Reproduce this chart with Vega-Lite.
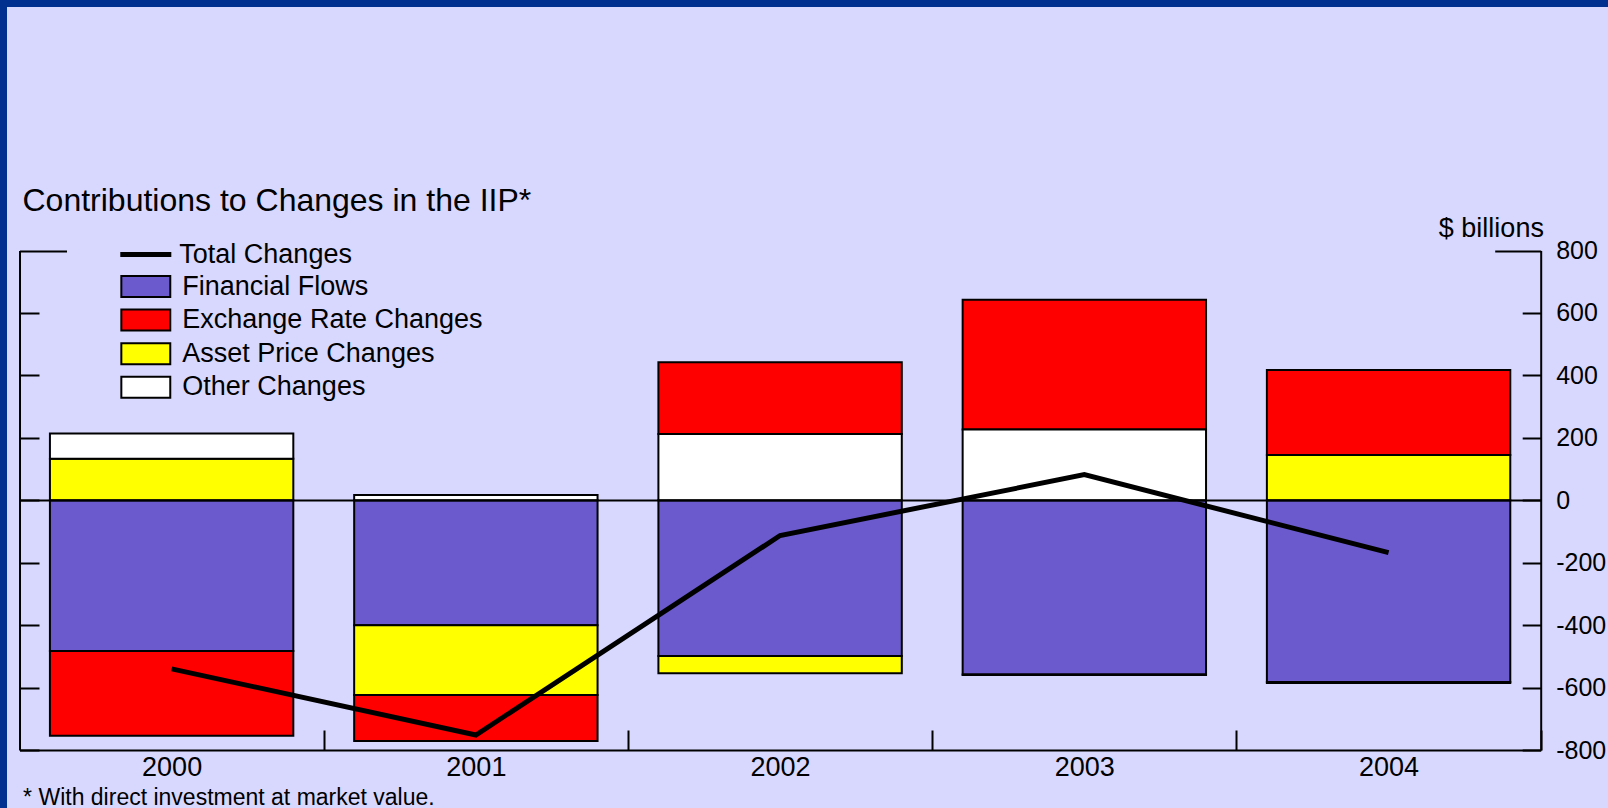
{
  "$schema": "https://vega.github.io/schema/vega-lite/v6.json",
  "width": 1601,
  "height": 801,
  "autosize": {"type": "none"},
  "padding": {"left": 7, "top": 7, "right": 0, "bottom": 0},
  "background": "#00308f",
  "title": {
    "text": "Contributions to Changes in the IIP*",
    "anchor": "start",
    "frame": "group",
    "orient": "top",
    "offset": -236,
    "baseline": "alphabetic",
    "dx": 15.5,
    "fontSize": 32,
    "fontWeight": "normal",
    "color": "black"
  },
  "datasets": {
    "components": [
      {"year": "2000", "component": "Financial Flows", "value": -483},
      {"year": "2000", "component": "Exchange Rate Changes", "value": -271},
      {"year": "2000", "component": "Asset Price Changes", "value": 133},
      {"year": "2000", "component": "Other Changes", "value": 81},
      {"year": "2001", "component": "Financial Flows", "value": -400},
      {"year": "2001", "component": "Exchange Rate Changes", "value": -147},
      {"year": "2001", "component": "Asset Price Changes", "value": -224},
      {"year": "2001", "component": "Other Changes", "value": 17},
      {"year": "2002", "component": "Financial Flows", "value": -499},
      {"year": "2002", "component": "Exchange Rate Changes", "value": 230},
      {"year": "2002", "component": "Asset Price Changes", "value": -55},
      {"year": "2002", "component": "Other Changes", "value": 212},
      {"year": "2003", "component": "Financial Flows", "value": -558},
      {"year": "2003", "component": "Exchange Rate Changes", "value": 415},
      {"year": "2003", "component": "Asset Price Changes", "value": -2},
      {"year": "2003", "component": "Other Changes", "value": 227},
      {"year": "2004", "component": "Financial Flows", "value": -582},
      {"year": "2004", "component": "Exchange Rate Changes", "value": 272},
      {"year": "2004", "component": "Asset Price Changes", "value": 145},
      {"year": "2004", "component": "Other Changes", "value": -3}
    ],
    "totals": [
      {"year": "2000", "total": -540},
      {"year": "2001", "total": -752},
      {"year": "2002", "total": -113},
      {"year": "2003", "total": 82},
      {"year": "2004", "total": -168}
    ]
  },
  "layer": [
    {
      "data": {"name": "components"},
      "transform": [
        {
          "calculate": "indexof(['Financial Flows', 'Asset Price Changes', 'Other Changes', 'Exchange Rate Changes'], datum.component)",
          "as": "stackRank"
        }
      ],
      "mark": {"type": "bar", "stroke": "black", "strokeWidth": 2, "opacity": 1},
      "encoding": {
        "x": {
          "field": "year",
          "type": "nominal",
          "sort": null,
          "scale": {"range": [12.5, 1533.7], "paddingInner": 0.2, "paddingOuter": 0.1},
          "axis": {
            "orient": "bottom",
            "offset": -58,
            "domain": true,
            "domainColor": "black",
            "domainWidth": 2,
            "ticks": true,
            "tickOffset": 152.12,
            "tickSize": -20,
            "tickWidth": 2,
            "tickColor": "black",
            "labelOffset": -152.12,
            "labelAngle": 0,
            "labelFontSize": 27,
            "labelBaseline": "middle",
            "labelPadding": 37,
            "labelColor": "black",
            "grid": false,
            "title": "* With direct investment at market value.",
            "titleX": 15.6,
            "titleY": 47,
            "titleAlign": "left",
            "titleAnchor": "start",
            "titleBaseline": "middle",
            "titleFontSize": 23,
            "titleFontWeight": "normal",
            "titleColor": "black",
            "zindex": 1
          }
        },
        "y": {
          "field": "value",
          "type": "quantitative",
          "stack": "zero",
          "scale": {"domain": [-800, 800], "range": [743, 243.5], "nice": false, "zero": false},
          "axis": {
            "orient": "left",
            "offset": -12.5,
            "values": [-800, -600, -400, -200, 0, 200, 400, 600, 800],
            "labels": false,
            "title": null,
            "domain": true,
            "domainColor": "black",
            "domainWidth": 2,
            "ticks": true,
            "tickColor": "black",
            "tickWidth": 2,
            "tickSize": {"condition": {"test": "datum.value === 800", "value": -47}, "value": -19.5},
            "grid": true,
            "gridColor": "black",
            "gridWidth": 2,
            "gridOpacity": {"condition": {"test": "datum.value === 0", "value": 1}, "value": 0},
            "zindex": 1
          }
        },
        "fill": {
          "field": "component",
          "type": "nominal",
          "scale": {
            "domain": ["Financial Flows", "Exchange Rate Changes", "Asset Price Changes", "Other Changes"],
            "range": ["#6a5acd", "#ff0000", "#ffff00", "#ffffff"]
          },
          "legend": {
            "title": null,
            "orient": "none",
            "legendX": 125.3,
            "legendY": 266,
            "direction": "vertical",
            "padding": 0,
            "offset": 0,
            "symbolType": "M-2.33,-1H2.33V1H-2.33Z",
            "symbolSize": 441,
            "symbolStrokeColor": "black",
            "symbolStrokeWidth": 2,
            "symbolOpacity": 1,
            "labelFontSize": 27,
            "labelColor": "black",
            "labelLimit": 0,
            "labelOffset": 23,
            "rowPadding": 4.6
          }
        },
        "order": {"field": "stackRank", "type": "quantitative"}
      }
    },
    {
      "data": {"name": "totals"},
      "mark": {"type": "line", "strokeWidth": 5, "strokeCap": "butt", "strokeJoin": "miter"},
      "encoding": {
        "x": {"field": "year", "type": "nominal", "sort": null},
        "y": {
          "field": "total",
          "type": "quantitative",
          "axis": {
            "orient": "right",
            "offset": -67.3,
            "values": [-800, -600, -400, -200, 0, 200, 400, 600, 800],
            "labels": true,
            "labelExpr": "datum.value < 0 ? '-' + abs(datum.value) : '' + datum.value",
            "labelFontSize": 25,
            "labelAlign": "left",
            "labelBaseline": "middle",
            "labelPadding": {"condition": {"test": "datum.value === 800", "value": 61}, "value": 33.5},
            "labelColor": "black",
            "labelFlush": false,
            "labelOverlap": false,
            "domain": true,
            "domainColor": "black",
            "domainWidth": 2,
            "ticks": true,
            "tickColor": "black",
            "tickWidth": 2,
            "tickSize": {"condition": {"test": "datum.value === 800", "value": -46}, "value": -18.5},
            "grid": false,
            "title": "$ billions",
            "titleAngle": 0,
            "titleAlign": "right",
            "titleBaseline": "middle",
            "titleX": 2.7,
            "titleY": 221.7,
            "titleFontSize": 27,
            "titleFontWeight": "normal",
            "titleColor": "black",
            "zindex": 1
          }
        },
        "stroke": {
          "datum": "Total Changes",
          "scale": {"range": ["black"]},
          "legend": {
            "title": null,
            "orient": "none",
            "legendX": 125.3,
            "legendY": 234,
            "padding": 0,
            "offset": 0,
            "symbolType": "M-2.43,0H2.43",
            "symbolSize": 441,
            "symbolStrokeWidth": 5,
            "labelFontSize": 27,
            "labelColor": "black",
            "labelLimit": 0,
            "labelOffset": 20
          }
        }
      }
    }
  ],
  "resolve": {"axis": {"y": "independent"}},
  "config": {
    "font": "Liberation Sans",
    "view": {"fill": "#d8d8ff", "stroke": null}
  }
}
